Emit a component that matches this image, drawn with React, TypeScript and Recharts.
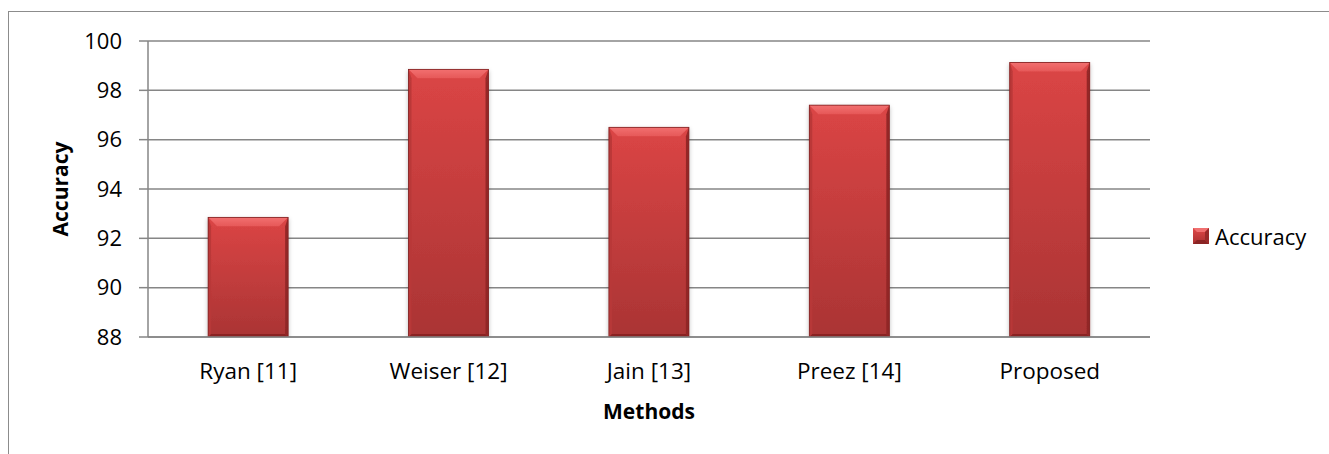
import React from 'react';
import { BarChart, Bar, XAxis, YAxis, CartesianGrid, Legend } from 'recharts';

const categories = ['Ryan [11]', 'Weiser [12]', 'Jain [13]', 'Preez [14]', 'Proposed'];
const accuracy = [92.85, 98.85, 96.5, 97.4, 99.13];
const yTicks = [88, 90, 92, 94, 96, 98, 100];
const seriesName = 'Accuracy';

const data = categories.map((c, i) => ({ method: c, Accuracy: accuracy[i] }));

const FONT = '"Open Sans", sans-serif';

const BevelBar = (props: any) => {
  const { x, y, width, height } = props;
  if (!width || !height) return null;
  const b = Math.min(9, width / 4, height / 4);
  const s = 3;
  return (
    <g filter="url(#barShadow)">
      <rect x={x} y={y} width={width} height={height} fill="url(#faceGrad)" />
      <polygon
        points={`${x},${y} ${x + width},${y} ${x + width - b},${y + b} ${x + b},${y + b}`}
        fill="url(#topGrad)"
      />
      <polygon
        points={`${x},${y} ${x + s},${y + b} ${x + s},${y + height - s} ${x},${y + height}`}
        fill="#b83838"
        opacity={0.9}
      />
      <polygon
        points={`${x + width},${y} ${x + width - s},${y + b} ${x + width - s},${y + height - s} ${x + width},${y + height}`}
        fill="#8e2626"
        opacity={0.9}
      />
      <polygon
        points={`${x},${y + height} ${x + s},${y + height - s} ${x + width - s},${y + height - s} ${x + width},${y + height}`}
        fill="#8a2424"
      />
      <rect x={x} y={y} width={width} height={height} fill="none" stroke="#7e2020" strokeWidth={0.8} />
    </g>
  );
};

const LegendContent = () => (
  <div style={{ display: 'flex', alignItems: 'center', fontFamily: FONT, fontSize: 22, color: '#000' }}>
    <svg width={16} height={16} style={{ marginRight: 6 }}>
      <defs>
        <linearGradient id="legGrad" x1="0" y1="0" x2="0" y2="1">
          <stop offset="0%" stopColor="#e04848" />
          <stop offset="100%" stopColor="#a83030" />
        </linearGradient>
      </defs>
      <rect x={0} y={0} width={16} height={16} fill="url(#legGrad)" />
      <polygon points="0,0 16,0 12,4 4,4" fill="#f07070" />
      <polygon points="0,16 16,16 12,12 4,12" fill="#8a2424" />
      <polygon points="16,0 16,16 12,12 12,4" fill="#9a2a2a" />
    </svg>
    <span>{seriesName}</span>
  </div>
);

export default function App() {
  return (
    <div style={{ position: 'absolute', left: 0, top: 0, width: 1329, height: 454, background: '#fff', overflow: 'hidden' }}>
      <div
        style={{
          position: 'absolute',
          left: 8,
          top: 11,
          width: 1400,
          height: 500,
          borderLeft: '1.5px solid #8c8c8c',
          borderTop: '1.5px solid #8c8c8c',
        }}
      />
      <div style={{ position: 'absolute', left: 0, top: 0 }}>
        <BarChart
          width={1329}
          height={454}
          data={data}
          margin={{ top: 41, right: 39, bottom: 57, left: 0 }}
          barCategoryGap="30%"
        >
          <defs>
            <linearGradient id="faceGrad" x1="0" y1="0" x2="0" y2="1">
              <stop offset="0%" stopColor="#db4545" />
              <stop offset="100%" stopColor="#aa3434" />
            </linearGradient>
            <linearGradient id="topGrad" x1="0" y1="0" x2="0" y2="1">
              <stop offset="0%" stopColor="#f27070" />
              <stop offset="100%" stopColor="#e65858" />
            </linearGradient>
            <filter id="barShadow" x="-20%" y="-10%" width="140%" height="125%">
              <feDropShadow dx="0" dy="2" stdDeviation="2" floodColor="#000" floodOpacity="0.25" />
            </filter>
          </defs>
          <CartesianGrid vertical={false} stroke="#868686" strokeWidth={1.5} />
          <XAxis
            dataKey="method"
            height={60}
            tickLine={false}
            tickSize={0}
            tickMargin={26}
            axisLine={{ stroke: '#868686', strokeWidth: 1.5 }}
            tick={{ fill: '#000', fontFamily: FONT, fontSize: 22.5 }}
            interval={0}
            label={{
              value: 'Methods',
              position: 'insideBottom',
              offset: -22,
              style: { fill: '#000', fontFamily: FONT, fontSize: 21, fontWeight: 700 },
            }}
          />
          <YAxis
            width={148}
            domain={[88, 100]}
            ticks={yTicks}
            interval={0}
            tickSize={9}
            tickMargin={17}
            tickLine={{ stroke: '#868686', strokeWidth: 1.5 }}
            axisLine={{ stroke: '#868686', strokeWidth: 1.5 }}
            tick={{ fill: '#000', fontFamily: FONT, fontSize: 22 }}
            allowDataOverflow
            label={{
              value: 'Accuracy',
              angle: -90,
              position: 'insideLeft',
              offset: 61,
              style: { fill: '#000', fontFamily: FONT, fontSize: 21, fontWeight: 700, textAnchor: 'middle' },
            }}
          />
          <Legend
            layout="vertical"
            verticalAlign="top"
            align="right"
            content={<LegendContent />}
            wrapperStyle={{ position: 'absolute', left: 1193, top: 221, width: 140 }}
          />
          <Bar dataKey="Accuracy" name={seriesName} shape={BevelBar} isAnimationActive={false} />
        </BarChart>
      </div>
    </div>
  );
}
